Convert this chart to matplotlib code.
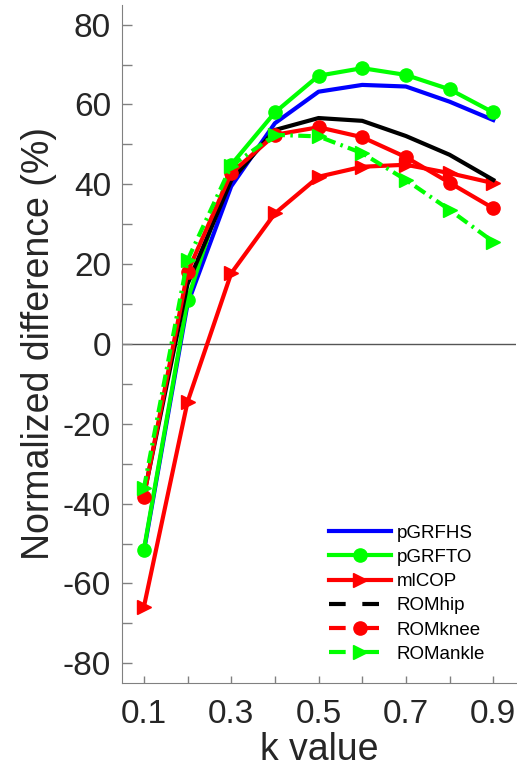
import matplotlib
matplotlib.use("Agg")
import matplotlib.pyplot as plt
from matplotlib.lines import Line2D
from matplotlib.ticker import MultipleLocator

# k values and normalized differences (%)
k = [0.1, 0.2, 0.3, 0.4, 0.5, 0.6, 0.7, 0.8, 0.9]
pgrfhs = [-52, 10, 39.5, 55.3, 63.2, 64.9, 64.5, 60.7, 56.1]
pgrfto = [-51.6, 11, 44.9, 58, 67.2, 69.1, 67.4, 63.8, 58]
mlcop = [-65.9, -14.5, 17.7, 32.7, 41.9, 44.4, 44.9, 42.8, 40.3]
romhip = [-38, 15, 41, 53.6, 56.6, 55.9, 52.1, 47.4, 41.1]
romknee = [-38.3, 18, 42.8, 52.4, 54.3, 51.8, 46.8, 40.4, 34]
romankle = [-36.2, 21, 44.6, 52.4, 52, 47.8, 41.1, 33.6, 25.6]

labels = ["pGRFHS", "pGRFTO", "mlCOP", "ROMhip", "ROMknee", "ROMankle"]

STYLE = {
    "font.family": ["Liberation Sans", "DejaVu Sans"],
    "axes.unicode_minus": False,
    "axes.spines.top": False,
    "axes.spines.right": False,
    "axes.edgecolor": "#808080",
    "xtick.color": "#808080",
    "ytick.color": "#808080",
    "xtick.labelcolor": "#262626",
    "ytick.labelcolor": "#262626",
    "xtick.direction": "in",
    "ytick.direction": "in",
}

LW = 3
MS = 9.5

with plt.rc_context(STYLE):
    fig = plt.figure(figsize=(5.17, 7.8), dpi=100)
    ax = fig.add_axes([0.236, 0.124, 0.762, 0.870])

    ax.axhline(0, color="#555555", lw=1.0, zorder=1)

    ax.plot(k, pgrfhs, color="#0000ff", lw=LW, zorder=3)
    ax.plot(k, pgrfto, color="#00ff00", lw=LW, marker="o", ms=MS, zorder=3)
    ax.plot(k, mlcop, color="#ff0000", lw=LW, marker=">", ms=MS + 1, zorder=3)
    ax.plot(k, romhip, color="black", lw=LW, zorder=3)
    ax.plot(k, romknee, color="#ff0000", lw=LW, marker="o", ms=MS, zorder=3)
    ax.plot(k, romankle, color="#00ff00", lw=LW, marker=">", ms=MS + 1,
            ls=(0, (3, 1.3, 0.6, 1.3)), zorder=3)

    ax.set_xlim(0.05, 0.952)
    ax.set_ylim(-85, 85)
    ax.set_xticks([0.1, 0.3, 0.5, 0.7, 0.9])
    ax.set_xticks([0.2, 0.4, 0.6, 0.8], minor=True)
    ax.set_xticklabels(["0.1", "0.3", "0.5", "0.7", "0.9"])
    ax.yaxis.set_major_locator(MultipleLocator(20))
    ax.yaxis.set_minor_locator(MultipleLocator(10))
    ax.tick_params(which="both", length=5, width=1)
    ax.tick_params(axis="y", which="both", length=7)
    ax.tick_params(labelsize=24)
    ax.tick_params(axis="y", pad=8)
    ax.tick_params(axis="x", pad=11)

    ax.set_xlabel("k value", fontsize=27, color="#262626", labelpad=2)
    ax.set_ylabel("Normalized difference (%)", fontsize=27,
                  color="#262626", labelpad=4)

    # legend proxies (dashed patterns for the ROM series, as in the original)
    dash = (0, (4, 4, 4, 3.3, 0.5, 6))
    handles = [
        Line2D([], [], color="#0000ff", lw=LW),
        Line2D([], [], color="#00ff00", lw=LW, marker="o", ms=MS),
        Line2D([], [], color="#ff0000", lw=LW, marker=">", ms=MS + 1),
        Line2D([], [], color="black", lw=LW, ls=dash),
        Line2D([], [], color="#ff0000", lw=LW, ls=dash, marker="o", ms=MS),
        Line2D([], [], color="#00ff00", lw=LW, ls=dash, marker=">", ms=MS + 1),
    ]
    ax.legend(handles, labels, loc="lower right", bbox_to_anchor=(0.96, 0.008),
              frameon=False, fontsize=13.5, handlelength=3.3,
              handletextpad=0.3, labelspacing=0.38, borderaxespad=0.4)

    fig.savefig("out.png", dpi=100)
    plt.close(fig)
